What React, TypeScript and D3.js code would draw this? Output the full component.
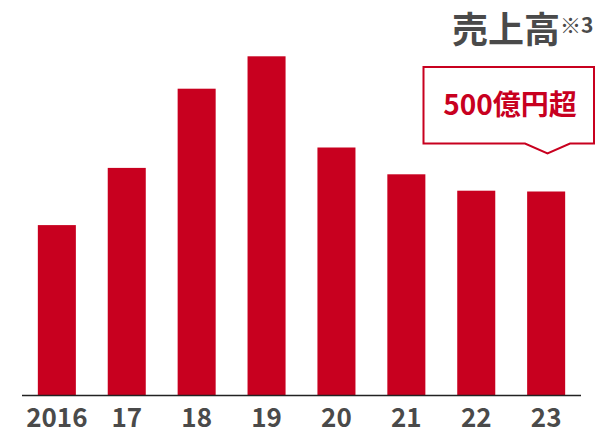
import React from "react";
import * as d3 from "d3";

const years = ["2016", "17", "18", "19", "20", "21", "22", "23"];
const sales = [426, 569, 767, 848, 620, 553, 512, 510];
const titleText = "売上高";
const titleNote = "※3";
const calloutText = "500億円超";

const W = 603;
const H = 431;
const RED = "#c8001f";
const GRAY = "#4a4a4a";
const FONT = "'Noto Sans CJK JP', 'Noto Sans', sans-serif";

export default function App() {
  const x = d3.scaleBand<string>().domain(years).range([22, 581]).paddingInner(0.456).paddingOuter(0.2265);
  const y = d3.scaleLinear().domain([0, 1000]).range([395.5, -4.5]);

  const bx0 = 423.5, bx1 = 594, by0 = 67, by1 = 143.5;
  const px0 = 525, pxm = 547.5, px1 = 570, py = 153.5;
  const calloutPath = `M${px0},${by1} L${bx0},${by1} L${bx0},${by0} L${bx1},${by0} L${bx1},${by1} L${px1},${by1} L${pxm},${py} Z`;

  return (
    <svg width={W} height={H} style={{ position: "absolute", left: 0, top: 0 }}>
      <rect width={W} height={H} fill="#fff" />
      {years.map((yr, i) => (
        <rect key={yr} x={x(yr)} y={y(sales[i])} width={x.bandwidth()} height={y(0) - y(sales[i])} fill={RED} />
      ))}
      <line x1={22} x2={581} y1={y(0)} y2={y(0)} stroke="#222" strokeWidth={1.6} />
      {years.map((yr) => (
        <text key={yr} x={(x(yr) as number) + x.bandwidth() / 2} y={426.5} textAnchor="middle" fontFamily={FONT}
          fontWeight="bold" fontSize={26} fill={GRAY}>{yr}</text>
      ))}
      <text x={452} y={42.5} fontFamily={FONT} fontWeight="bold" fontSize={36} fill={GRAY}>
        {titleText}
        <tspan fontSize={21} dy={-10}>{titleNote}</tspan>
      </text>
      <path d={calloutPath} fill="#fff" stroke={RED} strokeWidth={2} />
      <text x={510} y={115} textAnchor="middle" fontFamily={FONT} fontWeight="bold" fontSize={28} fill={RED}>
        {calloutText}
      </text>
    </svg>
  );
}
